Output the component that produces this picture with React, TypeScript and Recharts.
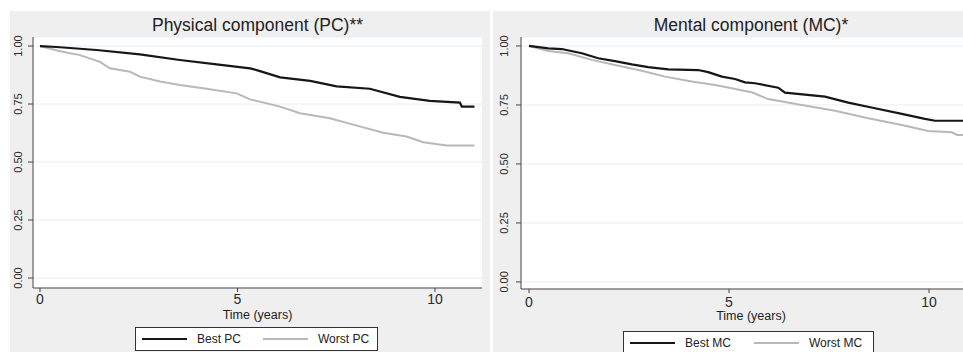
import React from "react";
import { LineChart, Line, XAxis, YAxis, CartesianGrid, Legend } from "recharts";

// Kaplan-Meier survival estimates by component score group
const bestPcTime = [0, 0.42, 1.43, 2.53, 3.54, 4.47, 5.32, 5.57, 6.08, 6.84, 7.51, 8.35, 9.11, 9.87, 10.63, 10.68, 11.0];
const bestPcSurv = [1.0, 0.996, 0.983, 0.964, 0.94, 0.921, 0.904, 0.892, 0.865, 0.85, 0.826, 0.816, 0.781, 0.764, 0.756, 0.739, 0.739];

const worstPcTime = [0, 0.51, 1.01, 1.52, 1.77, 2.28, 2.53, 3.04, 3.54, 4.13, 4.98, 5.32, 6.08, 6.58, 7.34, 8.02, 8.69, 9.28, 9.7, 10.3, 11.0];
const worstPcSurv = [1.0, 0.978, 0.961, 0.932, 0.904, 0.889, 0.868, 0.847, 0.832, 0.818, 0.796, 0.77, 0.739, 0.71, 0.689, 0.657, 0.626, 0.61, 0.585, 0.571, 0.571];

const bestMcTime = [0, 0.48, 0.82, 1.32, 1.73, 2.15, 2.57, 2.98, 3.48, 4.23, 4.48, 4.82, 5.15, 5.4, 5.65, 6.23, 6.4, 7.4, 7.98, 8.65, 9.32, 9.9, 10.15, 11.2];
const bestMcSurv = [1.0, 0.99, 0.987, 0.969, 0.948, 0.936, 0.922, 0.91, 0.901, 0.898, 0.889, 0.87, 0.86, 0.846, 0.842, 0.823, 0.802, 0.785, 0.76, 0.736, 0.712, 0.691, 0.683, 0.683];

const worstMcTime = [0, 0.48, 0.98, 1.57, 2.15, 2.82, 3.4, 4.07, 4.65, 5.07, 5.4, 5.57, 5.98, 6.82, 7.65, 8.48, 9.32, 9.98, 10.57, 10.7, 11.2];
const worstMcSurv = [1.0, 0.979, 0.969, 0.941, 0.919, 0.895, 0.87, 0.849, 0.835, 0.821, 0.809, 0.804, 0.775, 0.75, 0.725, 0.694, 0.665, 0.64, 0.634, 0.623, 0.623];

const xTicks = [0, 5, 10];
const yTicks = [0, 0.25, 0.5, 0.75, 1];

const BLACK = "#161616";
const GREY = "#b8b8b8";
const FONT = '"Liberation Sans", Arial, sans-serif';

const toPoints = (t: number[], s: number[]) => t.map((v, i) => ({ time: v, surv: s[i] }));

const makeYTick = (shift: number) => (props: any) => {
  const { x, y, payload } = props;
  return (
    <text
      transform={`translate(${x - shift},${y}) rotate(-90)`}
      textAnchor="middle"
      dy="0.35em"
      fontSize={11}
      fill="#2a2a2a"
      fontFamily={FONT}
    >
      {Number(payload.value).toFixed(2)}
    </text>
  );
};

const makeLegend = (best: string, worst: string, textW: number) => () => (
  <div
    style={{
      display: "flex",
      alignItems: "center",
      height: 22,
      border: "1px solid #333",
      background: "#fff",
      paddingLeft: 6,
      fontFamily: FONT,
      fontSize: 12,
      color: "#222",
    }}
  >
    <span style={{ width: 45, height: 2, background: BLACK, marginRight: 10 }} />
    <span style={{ width: textW }}>{best}</span>
    <span style={{ width: 45, height: 2, background: GREY, marginRight: 10 }} />
    <span>{worst}</span>
  </div>
);

type PanelProps = {
  left: number;
  width: number;
  chartWidth: number;
  title: string;
  best: { t: number[]; s: number[]; name: string };
  worst: { t: number[]; s: number[]; name: string };
  yAxisWidth: number;
  yShift: number;
  xDomain: [number, number];
  yDomain: [number, number];
  bottom: number;
  tickMargin: number;
  legendLeft: number;
  legendTop: number;
  legendWidth: number;
  legendTextW: number;
};

const Panel = (p: PanelProps) => {
  const top = 11;
  const height = 352 - top;
  const mRight = 8;
  const plotW = p.chartWidth - p.yAxisWidth - mRight;
  return (
    <div
      style={{
        position: "absolute",
        left: p.left,
        top,
        width: p.width,
        height,
        background: "#efefef",
        overflow: "hidden",
      }}
    >
      <div
        style={{
          position: "absolute",
          left: p.yAxisWidth,
          width: plotW,
          top: 4,
          textAlign: "center",
          fontFamily: FONT,
          fontSize: 17.5,
          lineHeight: "21px",
          color: "#222",
        }}
      >
        {p.title}
      </div>
      <LineChart
        width={p.chartWidth}
        height={height}
        margin={{ top: 26, right: mRight, left: 0, bottom: p.bottom }}
      >
        <CartesianGrid vertical={false} stroke="#e7eff4" fill="#ffffff" />
        <XAxis
          type="number"
          dataKey="time"
          domain={p.xDomain}
          ticks={xTicks}
          allowDataOverflow
          height={31}
          tickSize={4}
          tickMargin={p.tickMargin}
          stroke="#444"
          tick={{ fontSize: 14, fill: "#2a2a2a", fontFamily: FONT }}
          label={{
            value: "Time (years)",
            position: "insideBottom",
            offset: 0,
            style: { fontSize: 12.5, fill: "#222", fontFamily: FONT },
          }}
        />
        <YAxis
          type="number"
          domain={p.yDomain}
          ticks={yTicks}
          allowDataOverflow
          width={p.yAxisWidth}
          tickSize={5}
          stroke="#444"
          tick={makeYTick(p.yShift)}
        />
        {/* middle alignment keeps the legend from reserving plot space */}
        <Legend
          verticalAlign="middle"
          content={makeLegend(p.best.name, p.worst.name, p.legendTextW)}
          wrapperStyle={{ left: p.legendLeft, top: p.legendTop, bottom: "auto", width: p.legendWidth }}
        />
        <Line
          data={toPoints(p.worst.t, p.worst.s)}
          dataKey="surv"
          name={p.worst.name}
          type="linear"
          stroke={GREY}
          strokeWidth={2}
          dot={false}
          isAnimationActive={false}
        />
        <Line
          data={toPoints(p.best.t, p.best.s)}
          dataKey="surv"
          name={p.best.name}
          type="linear"
          stroke={BLACK}
          strokeWidth={2.2}
          dot={false}
          isAnimationActive={false}
        />
      </LineChart>
    </div>
  );
};

export default function App() {
  return (
    <div
      style={{
        position: "absolute",
        left: 0,
        top: 0,
        width: 963,
        height: 352,
        overflow: "hidden",
        background: "#fff",
      }}
    >
      <Panel
        left={10}
        width={480}
        chartWidth={480}
        title="Physical component (PC)**"
        best={{ t: bestPcTime, s: bestPcSurv, name: "Best PC" }}
        worst={{ t: worstPcTime, s: worstPcSurv, name: "Worst PC" }}
        yAxisWidth={23}
        yShift={8}
        xDomain={[-0.177, 11.19]}
        yDomain={[-0.043, 1.039]}
        bottom={33}
        tickMargin={2}
        legendLeft={125}
        legendTop={316}
        legendWidth={243}
        legendTextW={66}
      />
      <Panel
        left={493}
        width={470}
        chartWidth={496}
        title="Mental component (MC)*"
        best={{ t: bestMcTime, s: bestMcSurv, name: "Best MC" }}
        worst={{ t: worstMcTime, s: worstMcSurv, name: "Worst MC" }}
        yAxisWidth={28}
        yShift={10}
        xDomain={[-0.2, 11.3]}
        yDomain={[-0.03, 1.038]}
        bottom={32}
        tickMargin={4}
        legendLeft={130}
        legendTop={320}
        legendWidth={251}
        legendTextW={69}
      />
    </div>
  );
}
